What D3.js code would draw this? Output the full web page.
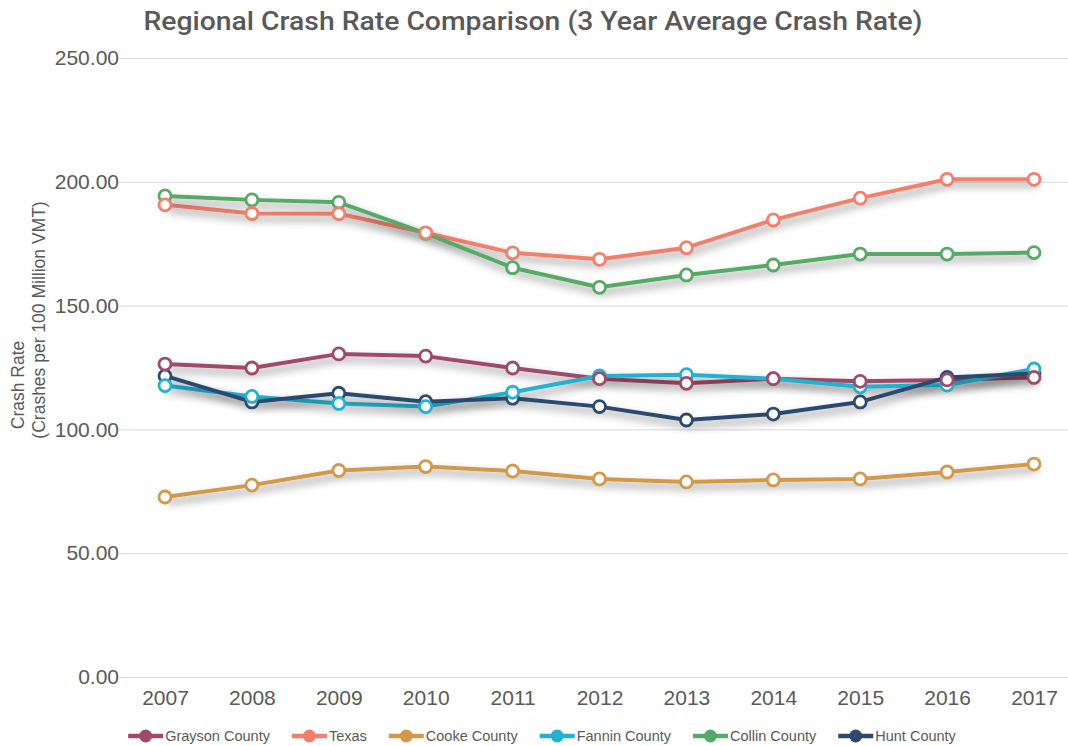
<!DOCTYPE html>
<html>
<head>
<meta charset="utf-8">
<script src="https://cdn.jsdelivr.net/npm/d3@7"></script>
<style>
  body { margin: 0; background: #fff; }
  text { font-family: "Liberation Sans", Arial, sans-serif; fill: #595959; }
</style>
</head>
<body>
<div id="chart"></div>
<script>
// data
const years = ["2007","2008","2009","2010","2011","2012","2013","2014","2015","2016","2017"];
const yTicks = [0, 50, 100, 150, 200, 250];
const grayson = [126.4, 124.8, 130.5, 129.6, 124.8, 120.5, 118.6, 120.5, 119.4, 120.0, 121.0];
const texas   = [190.7, 187.2, 187.1, 179.4, 171.3, 168.7, 173.4, 184.6, 193.4, 201.0, 201.0];
const cooke   = [72.7, 77.5, 83.4, 85.0, 83.2, 80.0, 78.8, 79.6, 80.0, 82.8, 86.0];
const fannin  = [117.7, 113.3, 110.5, 109.2, 115.0, 121.6, 122.1, 120.5, 117.2, 117.9, 124.4];
const collin  = [194.3, 192.7, 191.7, 179.2, 165.3, 157.4, 162.4, 166.4, 170.8, 170.8, 171.4];
const hunt    = [121.6, 111.1, 114.6, 111.2, 112.6, 109.2, 103.8, 106.2, 111.1, 121.0, 122.6];

const seriesNames = ["Grayson County","Texas","Cooke County","Fannin County","Collin County","Hunt County"];
const seriesColors = ["#a04a6b","#f37f6b","#d3994b","#22b1d0","#55aa65","#2c4a6e"];
const seriesValues = [grayson, texas, cooke, fannin, collin, hunt];

const W = 1068, H = 746;

const series = seriesNames.map((n, i) => ({name: n, color: seriesColors[i], values: seriesValues[i]}));

const svg = d3.select('#chart').append('svg').attr('width', W).attr('height', H);

const defs = svg.append('defs');
const f = defs.append('filter').attr('id', 'shadow')
  .attr('x', '-10%').attr('y', '-40%').attr('width', '130%').attr('height', '200%');
f.append('feDropShadow').attr('dx', 3).attr('dy', 5).attr('stdDeviation', 4)
  .attr('flood-color', '#000').attr('flood-opacity', 0.45);

const x = d3.scalePoint().domain(years).range([165, 1034]);
const y = d3.scaleLinear().domain([0, 250]).range([677, 58]);

// title
svg.append('text')
  .attr('x', 533).attr('y', 30)
  .attr('text-anchor', 'middle')
  .style('font-family', 'Roboto, "Liberation Sans", sans-serif')
  .style('font-weight', 500)
  .style('font-size', '25px')
  .attr('textLength', 779).attr('lengthAdjust', 'spacingAndGlyphs')
  .text('Regional Crash Rate Comparison (3 Year Average Crash Rate)');

// y axis with gridlines
const yAxis = d3.axisLeft(y).tickValues(yTicks).tickFormat(d3.format('.2f'))
  .tickSize(-(1068 - 125)).tickPadding(2);
const gy = svg.append('g').attr('transform', 'translate(125,0)').call(yAxis);
gy.select('.domain').remove();
gy.selectAll('.tick line').attr('stroke', '#d9d9d9').attr('x1', -6);
gy.selectAll('.tick text').style('font-size', '21px').attr('fill', '#595959').attr('x', -6);

// x axis labels
const xAxis = d3.axisBottom(x).tickSize(0).tickPadding(0);
const gx = svg.append('g').attr('transform', 'translate(0,690)').call(xAxis);
gx.select('.domain').remove();
gx.selectAll('.tick text').style('font-size', '21px').attr('fill', '#595959').attr('dy', '0.71em');

// y axis title
const yt = svg.append('g').attr('transform', 'rotate(-90)');
yt.append('text').attr('x', -385).attr('y', 24).attr('text-anchor', 'middle')
  .style('font-size', '17.5px').text('Crash Rate');
yt.append('text').attr('x', -320).attr('y', 45).attr('text-anchor', 'middle')
  .style('font-size', '17.5px').text('(Crashes per 100 Million VMT)');

// lines
const line = d3.line()
  .x((d, i) => x(years[i]))
  .y(d => y(d));

const plot = svg.append('g');
plot.selectAll('path.series').data(series).join('path')
  .attr('class', 'series')
  .attr('d', d => line(d.values))
  .attr('fill', 'none')
  .attr('stroke', d => d.color)
  .attr('stroke-width', 4)
  .attr('stroke-linejoin', 'round')
  .attr('filter', 'url(#shadow)');

// markers, Grayson drawn last
const markerOrder = series.slice().reverse();
markerOrder.forEach(s => {
  plot.append('g').selectAll('circle').data(s.values).join('circle')
    .attr('cx', (d, i) => x(years[i]))
    .attr('cy', d => y(d))
    .attr('r', 6)
    .attr('fill', '#fff')
    .attr('stroke', s.color)
    .attr('stroke-width', 2.8);
});

// legend
const legend = svg.append('g');
let lx = 0;
const items = [];
series.forEach(s => {
  const g = legend.append('g');
  g.append('line').attr('x1', 0).attr('x2', 35).attr('y1', 0).attr('y2', 0)
    .attr('stroke', s.color).attr('stroke-width', 4.5);
  g.append('circle').attr('cx', 17.5).attr('cy', 0).attr('r', 6.5).attr('fill', s.color);
  const t = g.append('text').attr('x', 37).attr('y', 0).attr('dy', '0.35em')
    .style('font-size', '14.5px').text(s.name);
  const w = 37 + t.node().getComputedTextLength();
  items.push({g: g, w: w});
});
const gap = 22;
const total = d3.sum(items, d => d.w) + gap * (items.length - 1);
lx = 542 - total / 2;
items.forEach(it => {
  it.g.attr('transform', 'translate(' + lx + ',736)');
  lx += it.w + gap;
});
</script>
</body>
</html>
